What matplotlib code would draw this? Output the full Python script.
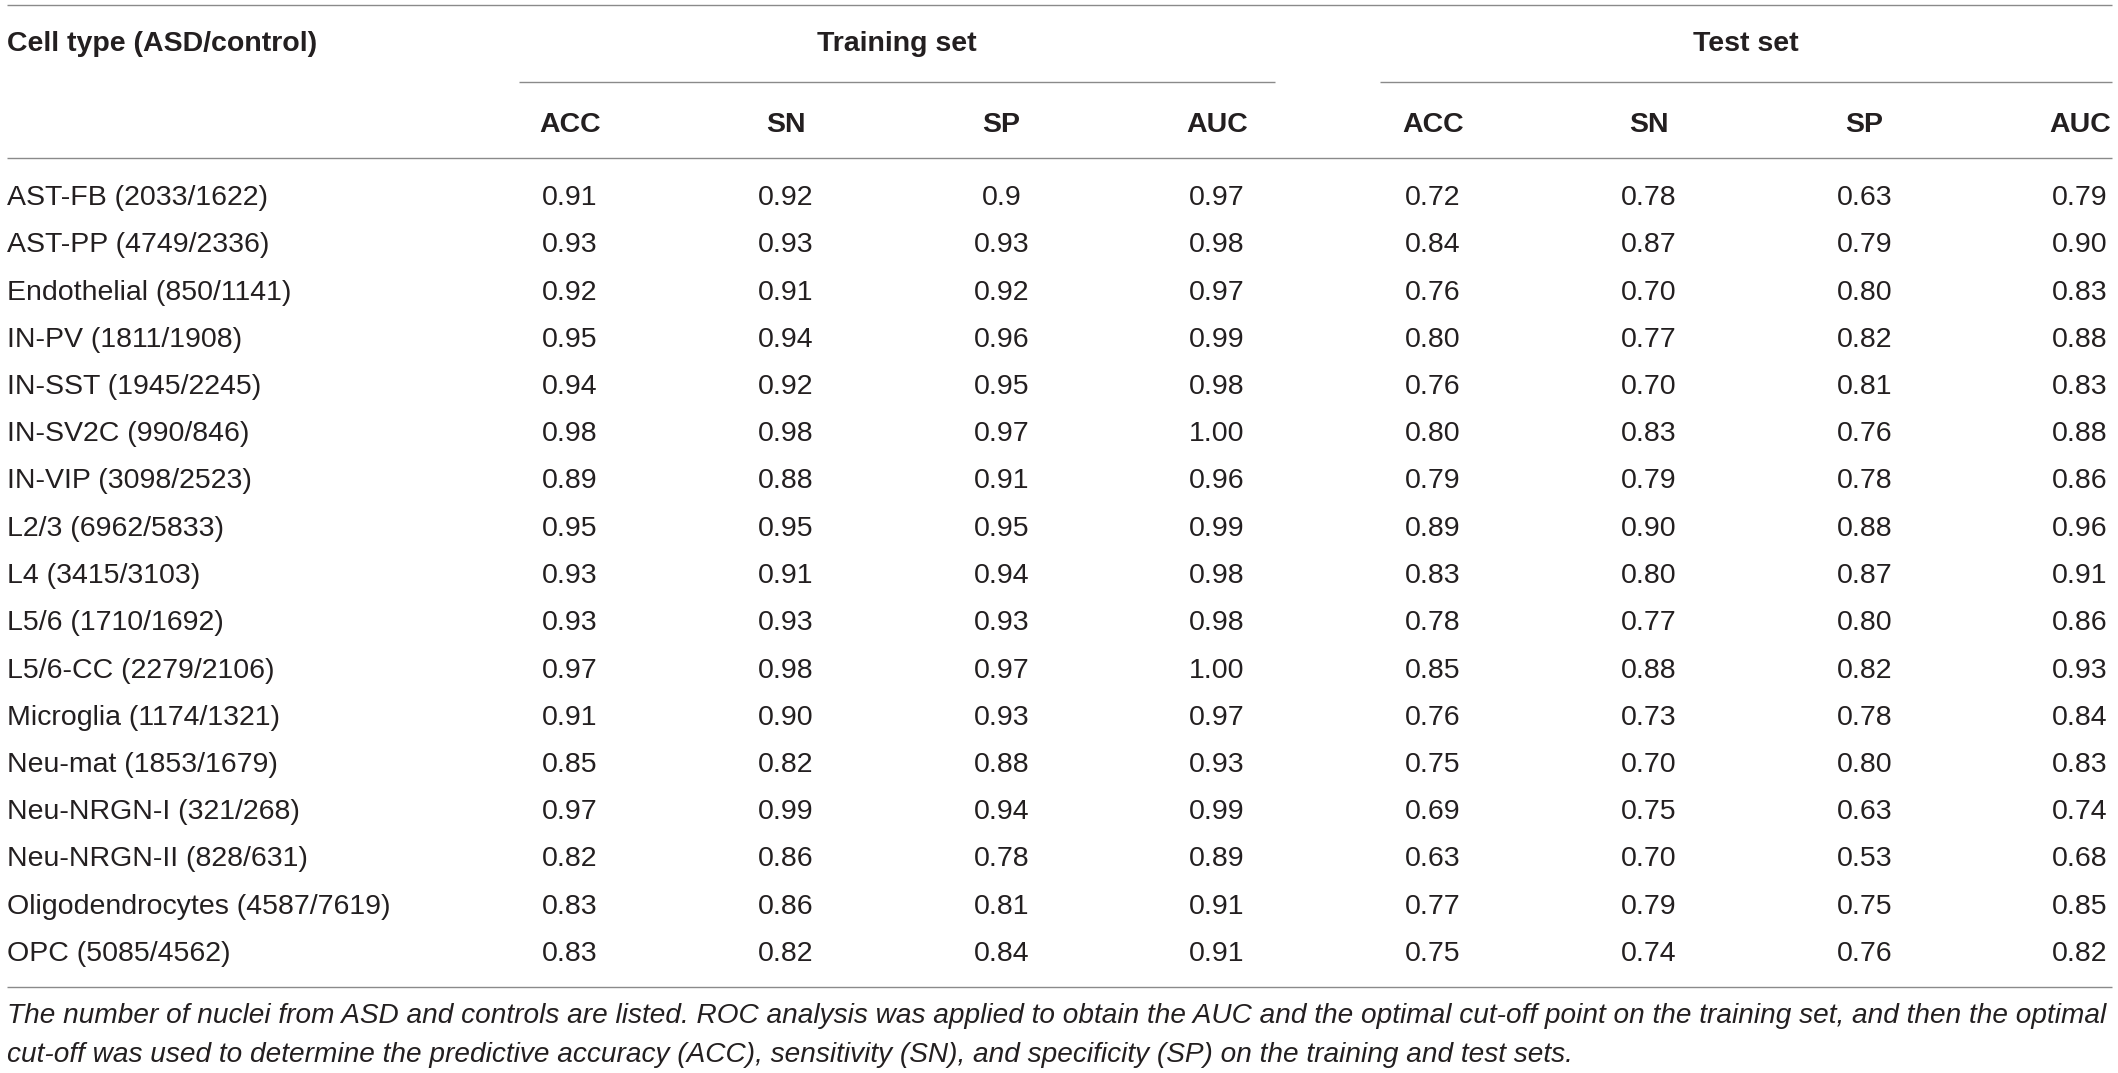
import matplotlib
matplotlib.use("Agg")
import matplotlib.pyplot as plt

plt.rcParams['font.family'] = ['Liberation Sans', 'DejaVu Sans']

# ---------------- data ----------------
cell_types = ["AST-FB", "AST-PP", "Endothelial", "IN-PV", "IN-SST", "IN-SV2C",
              "IN-VIP", "L2/3", "L4", "L5/6", "L5/6-CC", "Microglia", "Neu-mat",
              "Neu-NRGN-I", "Neu-NRGN-II", "Oligodendrocytes", "OPC"]
asd_counts = [2033, 4749, 850, 1811, 1945, 990, 3098, 6962, 3415, 1710, 2279,
              1174, 1853, 321, 828, 4587, 5085]
control_counts = [1622, 2336, 1141, 1908, 2245, 846, 2523, 5833, 3103, 1692,
                  2106, 1321, 1679, 268, 631, 7619, 4562]

metrics = ["ACC", "SN", "SP", "AUC"]
groups = ["Training set", "Test set"]

train_acc = ["0.91", "0.93", "0.92", "0.95", "0.94", "0.98", "0.89", "0.95", "0.93",
             "0.93", "0.97", "0.91", "0.85", "0.97", "0.82", "0.83", "0.83"]
train_sn = ["0.92", "0.93", "0.91", "0.94", "0.92", "0.98", "0.88", "0.95", "0.91",
            "0.93", "0.98", "0.90", "0.82", "0.99", "0.86", "0.86", "0.82"]
train_sp = ["0.9", "0.93", "0.92", "0.96", "0.95", "0.97", "0.91", "0.95", "0.94",
            "0.93", "0.97", "0.93", "0.88", "0.94", "0.78", "0.81", "0.84"]
train_auc = ["0.97", "0.98", "0.97", "0.99", "0.98", "1.00", "0.96", "0.99", "0.98",
             "0.98", "1.00", "0.97", "0.93", "0.99", "0.89", "0.91", "0.91"]
test_acc = ["0.72", "0.84", "0.76", "0.80", "0.76", "0.80", "0.79", "0.89", "0.83",
            "0.78", "0.85", "0.76", "0.75", "0.69", "0.63", "0.77", "0.75"]
test_sn = ["0.78", "0.87", "0.70", "0.77", "0.70", "0.83", "0.79", "0.90", "0.80",
           "0.77", "0.88", "0.73", "0.70", "0.75", "0.70", "0.79", "0.74"]
test_sp = ["0.63", "0.79", "0.80", "0.82", "0.81", "0.76", "0.78", "0.88", "0.87",
           "0.80", "0.82", "0.78", "0.80", "0.63", "0.53", "0.75", "0.76"]
test_auc = ["0.79", "0.90", "0.83", "0.88", "0.83", "0.88", "0.86", "0.96", "0.91",
            "0.86", "0.93", "0.84", "0.83", "0.74", "0.68", "0.85", "0.82"]

first_header = "Cell type (ASD/control)"
caption_lines = [
    "The number of nuclei from ASD and controls are listed. ROC analysis was applied to obtain the AUC and the optimal cut-off point on the training set, and then the optimal",
    "cut-off was used to determine the predictive accuracy (ACC), sensitivity (SN), and specificity (SP) on the training and test sets.",
]

# ---------------- layout ----------------
W, H = 2118, 1073
DPI = 100
fig = plt.figure(figsize=(W / DPI, H / DPI), dpi=DPI)
ax = fig.add_axes([0, 0, 1, 1])
ax.set_xlim(0, W)
ax.set_ylim(H, 0)
ax.axis('off')

TXT = '#231f20'
LINE = '#8a8a8a'
LW = 1.0
FS = 20.5
FS_CAP = 19.6
BASE = 10  # px from visual centre to baseline

left = 7
right = 2112
col_x0, col_dx = 570, 215.7
col_x = [col_x0 + col_dx * k for k in range(8)]
row_y0, row_dy = 195, 47.25

def hline(y, x0, x1):
    ax.plot([x0, x1], [y, y], color=LINE, lw=LW, solid_capstyle='butt')

hline(5, left, right)
hline(82, 519, 1275)
hline(82, 1380, right)
hline(158, left, right)
hline(987, left, right)

# headers
ax.text(left, 41 + BASE, first_header, fontsize=FS, fontweight='bold', color=TXT,
        ha='left', va='baseline')
ax.text((519 + 1275) / 2, 41 + BASE, groups[0], fontsize=FS, fontweight='bold',
        color=TXT, ha='center', va='baseline')
ax.text((1380 + right) / 2, 41 + BASE, groups[1], fontsize=FS, fontweight='bold',
        color=TXT, ha='center', va='baseline')
for k in range(8):
    ax.text(col_x[k], 122 + BASE, metrics[k % 4], fontsize=FS, fontweight='bold',
            color=TXT, ha='center', va='baseline')

# body
columns = [train_acc, train_sn, train_sp, train_auc,
           test_acc, test_sn, test_sp, test_auc]
for i, name in enumerate(cell_types):
    y = row_y0 + row_dy * i + BASE
    ax.text(left, y, f"{name} ({asd_counts[i]}/{control_counts[i]})", fontsize=FS,
            color=TXT, ha='left', va='baseline')
    for k, col in enumerate(columns):
        ax.text(col_x[k], y, col[i], fontsize=FS, color=TXT, ha='center',
                va='baseline')

# caption (first line fitted to the table width)
cap_base = [1023, 1062]
cap_texts = []
for line, yb in zip(caption_lines, cap_base):
    cap_texts.append(ax.text(left, yb, line, fontsize=FS_CAP, style='italic',
                             color=TXT, ha='left', va='baseline'))
fig.canvas.draw()
renderer = fig.canvas.get_renderer()
w0 = cap_texts[0].get_window_extent(renderer).width
target = (right - 2) - left
new_fs = FS_CAP * target / w0
for t in cap_texts:
    t.set_fontsize(new_fs)

fig.savefig("out.png", dpi=DPI)
